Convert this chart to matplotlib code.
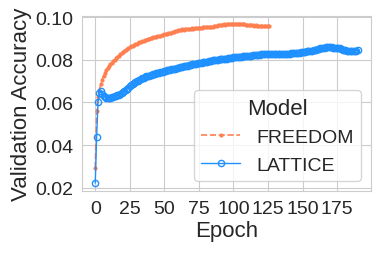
import matplotlib
matplotlib.use("Agg")
import matplotlib.pyplot as plt
import seaborn as sns

lattice = [
    0.0222, 0.0439, 0.0603, 0.0646, 0.0652, 0.0641, 0.0632, 0.0626, 0.0622, 0.0620,
    0.0619, 0.0621, 0.0624, 0.0626, 0.0628, 0.0631, 0.0634, 0.0637, 0.0641, 0.0645,
    0.0649, 0.0654, 0.0660, 0.0665, 0.0670, 0.0676, 0.0681, 0.0686, 0.0690, 0.0695,
    0.0699, 0.0702, 0.0706, 0.0710, 0.0714, 0.0716, 0.0719, 0.0722, 0.0724, 0.0726,
    0.0729, 0.0731, 0.0733, 0.0735, 0.0736, 0.0738, 0.0740, 0.0742, 0.0744, 0.0745,
    0.0747, 0.0749, 0.0750, 0.0752, 0.0753, 0.0755, 0.0756, 0.0757, 0.0759, 0.0760,
    0.0762, 0.0764, 0.0765, 0.0767, 0.0769, 0.0770, 0.0771, 0.0773, 0.0775, 0.0777,
    0.0778, 0.0779, 0.0780, 0.0781, 0.0783, 0.0784, 0.0785, 0.0787, 0.0788, 0.0789,
    0.0790, 0.0792, 0.0793, 0.0794, 0.0795, 0.0797, 0.0798, 0.0799, 0.0800, 0.0801,
    0.0802, 0.0803, 0.0804, 0.0805, 0.0805, 0.0806, 0.0807, 0.0808, 0.0809, 0.0810,
    0.0811, 0.0812, 0.0812, 0.0813, 0.0814, 0.0815, 0.0815, 0.0816, 0.0817, 0.0818,
    0.0818, 0.0819, 0.0820, 0.0820, 0.0821, 0.0822, 0.0822, 0.0823, 0.0823, 0.0824,
    0.0825, 0.0825, 0.0825, 0.0826, 0.0826, 0.0826, 0.0825, 0.0825, 0.0826, 0.0826,
    0.0827, 0.0827, 0.0827, 0.0828, 0.0827, 0.0827, 0.0828, 0.0828, 0.0828, 0.0829,
    0.0829, 0.0829, 0.0830, 0.0830, 0.0831, 0.0831, 0.0832, 0.0833, 0.0834, 0.0835,
    0.0836, 0.0837, 0.0838, 0.0839, 0.0840, 0.0841, 0.0842, 0.0843, 0.0844, 0.0846,
    0.0848, 0.0850, 0.0852, 0.0853, 0.0855, 0.0856, 0.0857, 0.0858, 0.0858, 0.0858,
    0.0858, 0.0858, 0.0857, 0.0857, 0.0856, 0.0856, 0.0855, 0.0853, 0.0851, 0.0848,
    0.0846, 0.0844, 0.0842, 0.0841, 0.0841, 0.0842, 0.0843, 0.0842, 0.0843, 0.0843,
    0.0844,
]

freedom = [
    0.0293, 0.0560, 0.0625, 0.0660, 0.0685, 0.0706, 0.0724, 0.0740, 0.0752, 0.0763,
    0.0772, 0.0779, 0.0786, 0.0793, 0.0800, 0.0807, 0.0814, 0.0820, 0.0826, 0.0832,
    0.0837, 0.0842, 0.0847, 0.0852, 0.0856, 0.0860, 0.0864, 0.0867, 0.0870, 0.0873,
    0.0876, 0.0879, 0.0882, 0.0885, 0.0887, 0.0890, 0.0892, 0.0894, 0.0897, 0.0899,
    0.0901, 0.0903, 0.0905, 0.0906, 0.0908, 0.0910, 0.0911, 0.0913, 0.0915, 0.0917,
    0.0919, 0.0920, 0.0922, 0.0924, 0.0926, 0.0928, 0.0930, 0.0932, 0.0934, 0.0936,
    0.0938, 0.0940, 0.0942, 0.0943, 0.0942, 0.0943, 0.0944, 0.0945, 0.0944, 0.0946,
    0.0947, 0.0946, 0.0948, 0.0949, 0.0948, 0.0950, 0.0951, 0.0950, 0.0952, 0.0953,
    0.0952, 0.0954, 0.0955, 0.0954, 0.0956, 0.0955, 0.0957, 0.0958, 0.0960, 0.0962,
    0.0963, 0.0964, 0.0965, 0.0966, 0.0965, 0.0966, 0.0967, 0.0966, 0.0967, 0.0968,
    0.0969, 0.0968, 0.0969, 0.0970, 0.0969, 0.0970, 0.0968, 0.0967, 0.0966, 0.0965,
    0.0964, 0.0963, 0.0962, 0.0962, 0.0961, 0.0960, 0.0961, 0.0960, 0.0959, 0.0960,
    0.0959, 0.0958, 0.0959, 0.0958, 0.0957, 0.0958, 0.0957,
]

epochs_lattice = list(range(len(lattice)))
epochs_freedom = list(range(len(freedom)))

sns.set_style("whitegrid")
plt.rcParams["font.family"] = ["Liberation Sans", "DejaVu Sans"]

fig = plt.figure(figsize=(3.82, 2.55), dpi=100)
ax = fig.add_axes([0.215, 0.247, 0.756, 0.688])

ax.plot(epochs_freedom, freedom, color="#FF7F50", linestyle="--", linewidth=1.2,
        marker=".", markersize=4, label="FREEDOM")
ax.plot(epochs_lattice, lattice, color="#1E90FF", linestyle="-", linewidth=1.0,
        marker="o", markersize=4.5, markerfacecolor="none", markeredgewidth=1.0,
        label="LATTICE")

ax.set_xticks([0, 25, 50, 75, 100, 125, 150, 175])
ax.set_yticks([0.02, 0.04, 0.06, 0.08, 0.10])
ax.set_yticklabels(["0.02", "0.04", "0.06", "0.08", "0.10"])
ax.tick_params(labelsize=14, pad=3, colors=".15")
ax.set_xlabel("Epoch", fontsize=16, color=".15", labelpad=2)
ax.set_ylabel("Validation Accuracy", fontsize=16, color=".15", labelpad=2)

leg = ax.legend(title="Model", loc="lower right", fontsize=14, title_fontsize=16,
                frameon=True)
leg.get_frame().set_edgecolor(".8")

fig.savefig("out.png", dpi=100)
